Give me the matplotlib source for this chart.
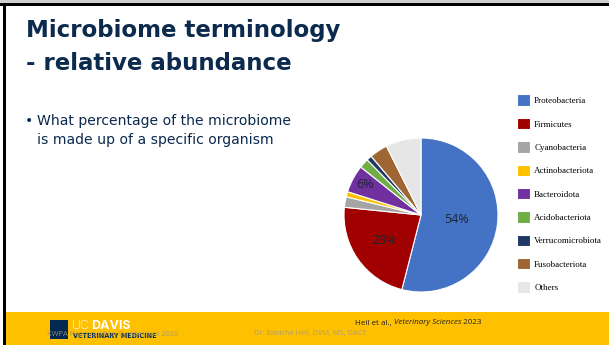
import matplotlib.pyplot as plt
from matplotlib.patches import Rectangle
import numpy as np

W, H = 609, 345

# data
phyla = ["Proteobacteria", "Firmicutes", "Cyanobacteria", "Actinobacteriota",
         "Bacteroidota", "Acidobacteriota", "Verrucomicrobiota", "Fusobacteriota", "Others"]
abundance = [54.0, 22.6, 2.2, 1.1, 5.8, 2.0, 1.1, 3.8, 7.4]
colors = ["#4472C4", "#A00000", "#A5A5A5", "#FFC000", "#7030A0",
          "#70AD47", "#203864", "#9E6632", "#E7E6E6"]
shown_labels = [0, 1, 4]          # slices that carry a % label
label_dist = [0.47, 0.58, 0.83]   # radial position of those labels

navy = "#0C2A4E"


def fx(x):
    return x / W


def fy(y):
    return 1 - y / H


fig = plt.figure(figsize=(W / 100, H / 100), dpi=100)
fig.patch.set_facecolor("white")

# slide frame
fig.add_artist(Rectangle((0, fy(3)), 1, 3 / H, transform=fig.transFigure, color="#D0D0D0", lw=0))
fig.add_artist(Rectangle((0, fy(6)), 1, 3 / H, transform=fig.transFigure, color="black", lw=0))
fig.add_artist(Rectangle((fx(5), 0), 1, 33 / H, transform=fig.transFigure, color="#FFC000", lw=0))
fig.add_artist(Rectangle((fx(3), 0), 2.5 / W, fy(3), transform=fig.transFigure, color="black", lw=0))

# title and bullet
fig.text(fx(26), fy(37.3), "Microbiome terminology", fontsize=16.5, fontweight="bold",
         color=navy, family="DejaVu Sans", va="baseline")
fig.text(fx(26), fy(69.5), "- relative abundance", fontsize=16.5, fontweight="bold",
         color=navy, family="DejaVu Sans", va="baseline")
fig.text(fx(25), fy(125), "\u2022", fontsize=10, color=navy, family="DejaVu Sans", va="baseline")
fig.text(fx(37), fy(125.5), "What percentage of the microbiome", fontsize=10.05,
         color=navy, family="DejaVu Sans", va="baseline")
fig.text(fx(37), fy(144), "is made up of a specific organism", fontsize=10.05,
         color=navy, family="DejaVu Sans", va="baseline")

# pie
cx, cy, r = 421, 215, 77
ax = fig.add_axes([fx(cx - r), fy(cy + r), 2 * r / W, 2 * r / H])
wedges, _ = ax.pie(abundance, colors=colors, startangle=90, counterclock=False,
                   wedgeprops=dict(edgecolor="white", linewidth=0.8))
ax.set_xlim(-1, 1)
ax.set_ylim(-1, 1)
for i, d in zip(shown_labels, label_dist):
    w = wedges[i]
    ang = np.deg2rad((w.theta1 + w.theta2) / 2)
    ax.text(d * np.cos(ang), d * np.sin(ang), "%.0f%%" % abundance[i],
            ha="center", va="center", fontsize=9, color="#1E2433", family="Open Sans")

# legend
fig.legend(wedges, phyla, loc="upper left", bbox_to_anchor=(fx(517), fy(94.5)),
           frameon=False, prop=dict(family="Liberation Serif", size=6.5),
           handlelength=1.45, handleheight=1.6, handletextpad=0.45,
           labelspacing=1.3, borderaxespad=0, borderpad=0)

# footer
fig.add_artist(Rectangle((fx(50), fy(339)), 18 / W, 19 / H, transform=fig.transFigure,
                         color="#022851", lw=0))
fig.text(fx(72), fy(329), "UC", fontsize=9, color="white", family="Inter",
         fontweight="light", va="baseline")
fig.text(fx(91), fy(329), "DAVIS", fontsize=9, color="white", family="Inter",
         fontweight="bold", va="baseline")
fig.text(fx(73), fy(338.5), "VETERINARY MEDICINE", fontsize=4.7, color="#022851",
         family="DejaVu Sans", fontweight="bold", va="baseline")
fig.text(fx(47), fy(336), "KWPA Reproduction Symposium 2026", fontsize=5.4,
         color="#A89A70", family="Open Sans", va="baseline", alpha=0.9)
fig.text(fx(254), fy(335.5), "Dr. Babiche Heil, DVM, MS, DACT", fontsize=5.3,
         color="#A89A70", family="Open Sans", va="baseline", alpha=0.9)
t1 = fig.text(fx(355), fy(324.5), "Heil et al., ", fontsize=5.8, color="#222222",
              family="Open Sans", va="baseline")
t2 = fig.text(0, 0, "Veterinary Sciences", fontsize=5.8, color="#222222",
              family="Open Sans", style="italic", va="baseline")
t3 = fig.text(0, 0, " 2023", fontsize=5.8, color="#222222",
              family="Open Sans", va="baseline")
fig.canvas.draw()
inv = fig.transFigure.inverted()
x2 = inv.transform(t1.get_window_extent().get_points())[1][0]
t2.set_position((x2, fy(324.5)))
fig.canvas.draw()
x3 = inv.transform(t2.get_window_extent().get_points())[1][0]
t3.set_position((x3, fy(324.5)))

fig.savefig("out.png", dpi=100)
